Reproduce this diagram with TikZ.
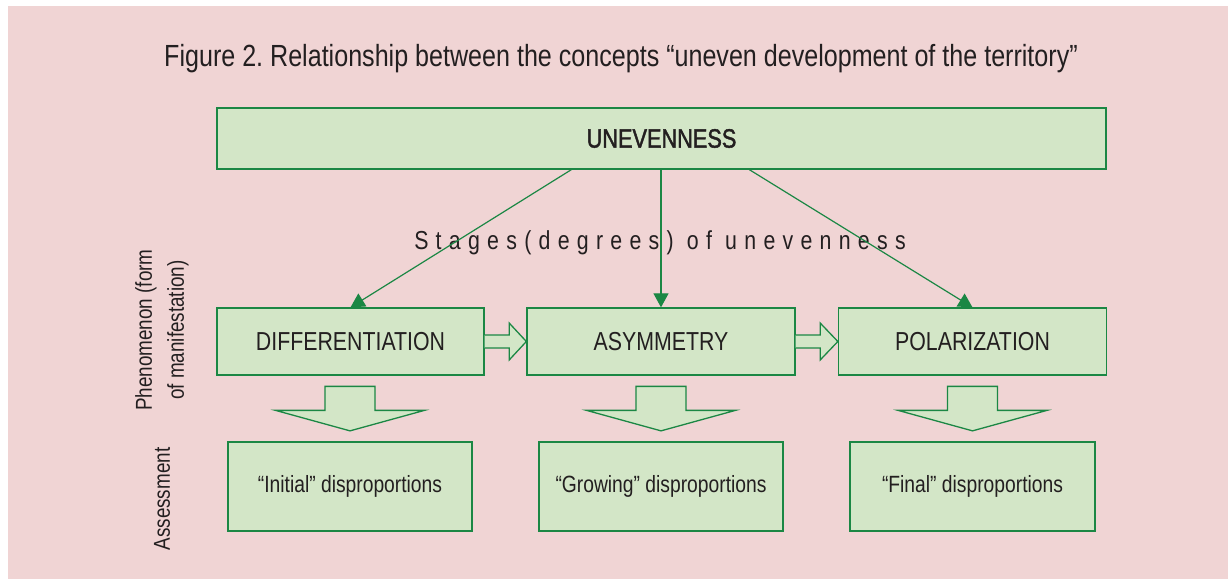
\documentclass[tikz,border=0pt]{standalone}
\usepackage{fontspec}
\setmainfont{Liberation Sans}[FakeStretch=0.82]
\usetikzlibrary{arrows.meta,calc}
\definecolor{bg}{RGB}{240,212,212}
\definecolor{boxfill}{RGB}{211,230,199}
\definecolor{boxline}{RGB}{27,135,68}
\definecolor{txt}{RGB}{35,31,32}
\tikzset{
  box/.style={draw=boxline, fill=boxfill, line width=1.3pt, inner sep=0pt, text=txt},
  midbox/.style={box, minimum width=267pt, minimum height=67pt, font=\fontsize{26}{30}\selectfont},
  lowbox/.style={box, minimum width=244pt, minimum height=89pt, font=\fontsize{23.5}{28}\selectfont},
  arr/.style={draw=boxline, line width=1.2pt, -{Triangle[length=14pt,width=15pt]}},
  hollow/.style={draw=boxline, fill=boxfill, line width=1.3pt, line join=miter},
  sidelabel/.style={text=txt, rotate=90, align=center, font=\fontsize{23}{32}\selectfont}
}
\frenchspacing
\begin{document}
\begin{tikzpicture}[x=1pt,y=-1pt]
\path[use as bounding box] (0,0) rectangle (1228,579);
\fill[white] (0,0) rectangle (1228,579);
\fill[bg] (8,6) rectangle (1228,579);

\node[text=txt, font=\fontsize{30.6}{36}\selectfont] (title) at (621,58.5) {Figure 2. Relationship between the concepts “uneven development of the territory”};

\node[box, minimum width=889pt, minimum height=61pt, font=\fontsize{26.5}{30}\selectfont\addfontfeature{FakeBold=1.6}] (top) at (661.5,138.5) {UNEVENNESS};

\node[midbox] (diff) at (350.5,341.5) {DIFFERENTIATION};
\node[midbox, minimum width=268pt] (asym) at (661,341.5) {ASYMMETRY};
\node[midbox, minimum width=268pt] (polar) at (972.5,341.5) {POLARIZATION};

\node[lowbox] (init) at (350,486.5) {“Initial” disproportions};
\node[lowbox] (grow) at (661,486.5) {“Growing” disproportions};
\node[lowbox, minimum width=245pt] (final) at (972.5,486.5) {“Final” disproportions};

\node[text=txt, font=\fontsize{26}{30}\selectfont\addfontfeature{LetterSpace=28}] (stages) at (660,242.5) {Stages(degrees) of unevenness};

\node[sidelabel] (phen) at (162,330) {Phenomenon (form\\of manifestation)};
\node[sidelabel] (assess) at (162,499) {Assessment};

% arrows from top box
\draw[arr] ($(top.south west)+(355,0)$) -- (diff.north);
\draw[arr] (top.south -| asym.north) -- (asym.north);
\draw[arr] ($(top.south west)+(533,0)$) -- (polar.north);

% hollow right arrows
\foreach \a/\b in {diff/asym, asym/polar}{
  \path[hollow] ($(\a.east)+(0,-6.5)$) -- ($(\a.east)+(24.5,-6.5)$) -- ($(\a.east)+(24.5,-18.5)$)
    -- (\b.west) -- ($(\a.east)+(24.5,18.5)$) -- ($(\a.east)+(24.5,6.5)$) -- ($(\a.east)+(0,6.5)$);
}

% hollow down arrows
\foreach \a/\b in {diff/init, asym/grow, polar/final}{
  \path[hollow] ($(\b.north)+(-25,-55)$) -- ($(\b.north)+(25,-55)$) -- ($(\b.north)+(25,-31)$)
    -- ($(\b.north)+(74.5,-31)$) -- ($(\b.north)+(0,-10.5)$) -- ($(\b.north)+(-74.5,-31)$)
    -- ($(\b.north)+(-25,-31)$) -- cycle;
}
\end{tikzpicture}
\end{document}
